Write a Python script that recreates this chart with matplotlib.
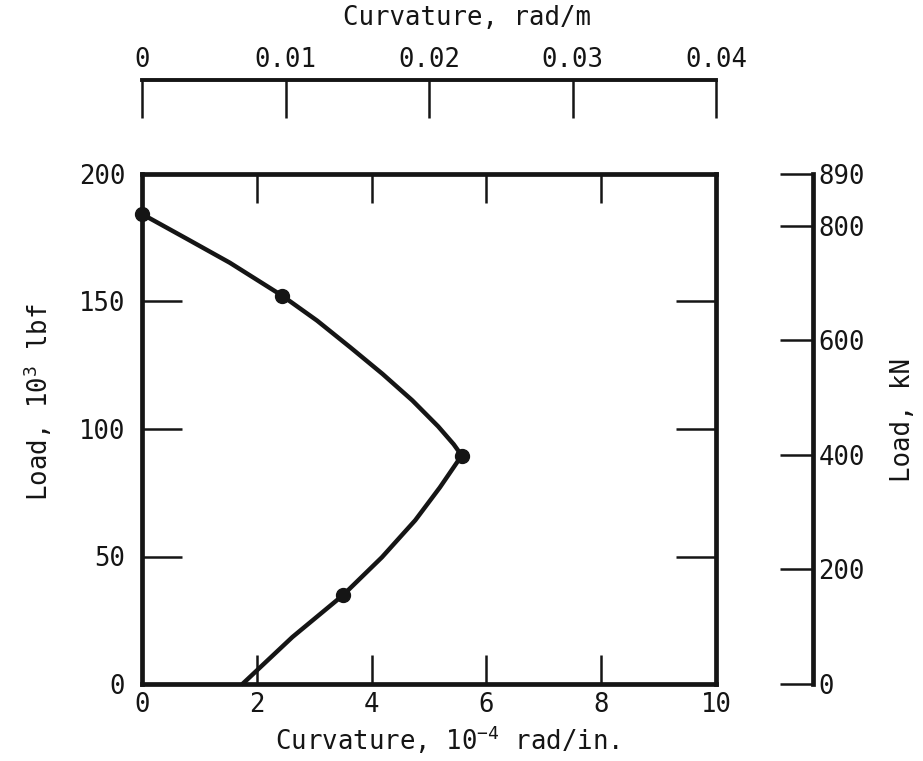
import matplotlib
matplotlib.use("Agg")
import matplotlib.pyplot as plt

# load path, read in 10^-4 rad/in and 10^3 lbf
curve_x = [0.00, 0.78, 1.53, 2.44, 3.05, 3.63, 4.19, 4.71, 5.16, 5.43, 5.57,
           5.19, 4.76, 4.18, 3.50, 2.62, 1.75]
curve_load = [184.3, 174.6, 165.2, 152.3, 142.5, 132.0, 121.6, 111.2, 101.0, 94.0, 89.6,
              77.1, 64.2, 49.7, 34.8, 18.4, 0.0]

# measured points on the curve
mark_x = [0.0, 2.44, 5.57, 3.50]
mark_load = [184.3, 152.3, 89.6, 34.8]

x_ticks = [0, 2, 4, 6, 8, 10]
load_ticks = [0, 50, 100, 150, 200]
top_ticks = [0, 0.01, 0.02, 0.03, 0.04]
top_labels = ["0", "0.01", "0.02", "0.03", "0.04"]
kn_ticks = [0, 200, 400, 600, 800, 890]

plt.rcParams["font.family"] = ["DejaVu Sans Mono"]
plt.rcParams["mathtext.default"] = "regular"
plt.rcParams["font.size"] = 18.5

INK = "#151515"
W, H = 923, 761

fig = plt.figure(figsize=(W / 100, H / 100), dpi=100)
fig.patch.set_facecolor("white")

left, right = 142 / W, 716 / W
bottom, top = 1 - 684 / H, 1 - 174 / H

# main plot box
ax = fig.add_axes([left, bottom, right - left, top - bottom])
ax.plot(curve_x, curve_load, color=INK, lw=3.2, solid_joinstyle="round",
        solid_capstyle="round", clip_on=False)
ax.plot(mark_x, mark_load, "o", color=INK, ms=10, clip_on=False, zorder=5)
ax.set_xlim(0, 10)
ax.set_ylim(0, 200)
ax.set_xticks(x_ticks)
ax.set_yticks(load_ticks)
for s in ax.spines.values():
    s.set_linewidth(3.4)
    s.set_color(INK)
ax.tick_params(axis="x", direction="in", length=21, width=1.8, pad=6,
               top=True, colors=INK)
ax.tick_params(axis="y", direction="in", length=29, width=1.8, pad=12,
               right=True, colors=INK)

# top scale in rad/m
ax_top = fig.add_axes([left, 1 - 117 / H, right - left, 37 / H])
ax_top.patch.set_visible(False)
for k in ["left", "right", "bottom"]:
    ax_top.spines[k].set_visible(False)
ax_top.spines["top"].set_linewidth(2.8)
ax_top.spines["top"].set_color(INK)
ax_top.set_xlim(0, 0.04)
ax_top.set_yticks([])
ax_top.xaxis.tick_top()
ax_top.set_xticks(top_ticks)
ax_top.set_xticklabels(top_labels)
ax_top.tick_params(axis="x", direction="in", length=27, width=1.8, pad=5,
                   colors=INK)

# side scale in kN
ax_kn = fig.add_axes([780 / W, bottom, 33 / W, top - bottom])
ax_kn.patch.set_visible(False)
for k in ["left", "top", "bottom"]:
    ax_kn.spines[k].set_visible(False)
ax_kn.spines["right"].set_linewidth(3.4)
ax_kn.spines["right"].set_color(INK)
ax_kn.set_ylim(0, 890)
ax_kn.set_xticks([])
ax_kn.yaxis.tick_right()
ax_kn.set_yticks(kn_ticks)
ax_kn.tick_params(axis="y", direction="in", length=24, width=1.8, pad=4,
                  colors=INK)

fig.text(467 / W, 1 - 18 / H, "Curvature, rad/m", ha="center", va="center",
         color=INK)
fig.text(447 / W, 1 - 740 / H, "Curvature, 10$^{-4}$ rad/in.", ha="center",
         va="center", color=INK)
fig.text(38 / W, 1 - 402 / H, "Load, 10$^3$ lbf", ha="center", va="center",
         rotation=90, color=INK)
fig.text(903 / W, 1 - 420 / H, "Load, kN", ha="center", va="center",
         rotation=90, color=INK)

fig.savefig("out.png", dpi=100, facecolor="white")
